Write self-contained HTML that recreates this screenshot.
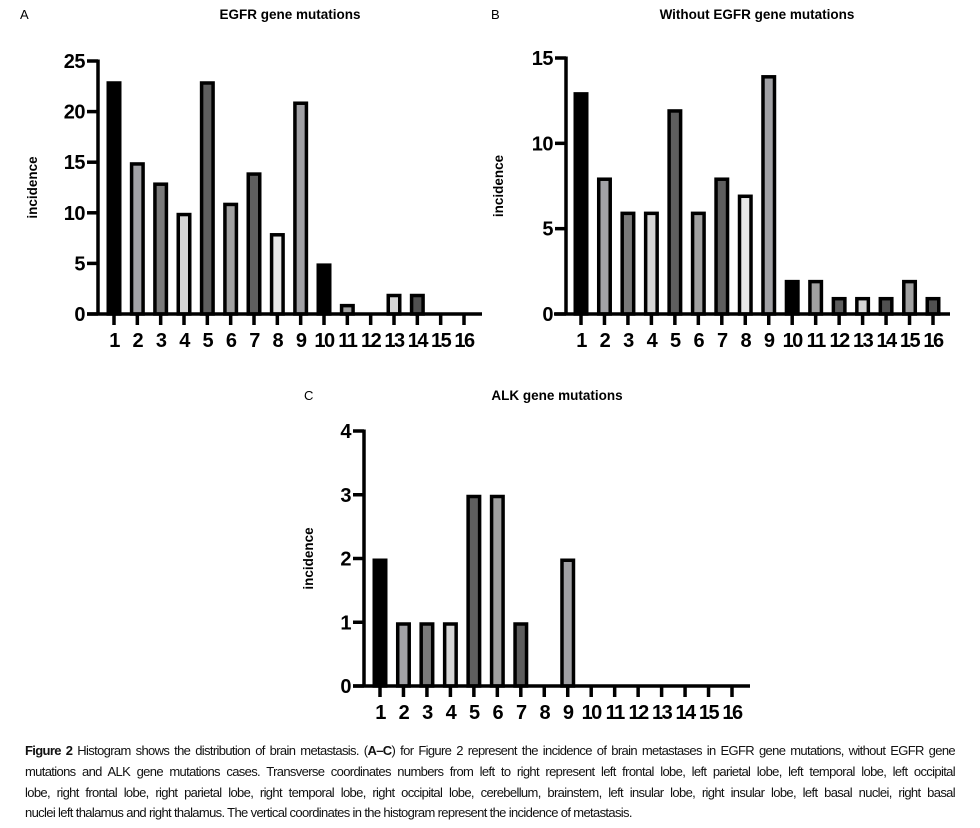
<!DOCTYPE html>
<html><head><meta charset="utf-8">
<style>
body{margin:0;background:#fff;width:980px;height:828px;overflow:hidden;position:relative;font-family:"Liberation Sans",sans-serif}
svg{position:absolute;left:0;top:0}
#cap{position:absolute;left:25px;top:741px;width:930px;font-size:13px;line-height:20.8px;color:#111;letter-spacing:-0.65px}
#cap .ln{text-align:justify;text-align-last:justify;white-space:nowrap;overflow:visible}
#cap .last{text-align:left;text-align-last:left}
</style></head><body>
<svg id="svg" width="980" height="740" viewBox="0 0 980 740"></svg>
<div id="cap">
<div class="ln"><b>Figure 2</b> Histogram shows the distribution of brain metastasis. (<b>A–C</b>) for Figure 2 represent the incidence of brain metastases in EGFR gene mutations, without EGFR gene</div>
<div class="ln">mutations and ALK gene mutations cases. Transverse coordinates numbers from left to right represent left frontal lobe, left parietal lobe, left temporal lobe, left occipital</div>
<div class="ln">lobe, right frontal lobe, right parietal lobe, right temporal lobe, right occipital lobe, cerebellum, brainstem, left insular lobe, right insular lobe, left basal nuclei, right basal</div>
<div class="ln last">nuclei left thalamus and right thalamus. The vertical coordinates in the histogram represent the incidence of metastasis.</div>
</div>
<script>
const categories = ["1","2","3","4","5","6","7","8","9","10","11","12","13","14","15","16"];
const egfrValues = [23,15,13,10,23,11,14,8,21,5,1,0,2,2,0,0];
const withoutEgfrValues = [13,8,6,6,12,6,8,7,14,2,2,1,1,1,2,1];
const alkValues = [2,1,1,1,3,3,1,0,2,0,0,0,0,0,0,0];
const egfrTicks = [0,5,10,15,20,25];
const withoutTicks = [0,5,10,15];
const alkTicks = [0,1,2,3,4];
const fills = ["#000","#a2a2a6","#7a7a7a","#d6d6d6","#5e5e5e","#a0a0a0","#5e5e5e","#e8e8e8","#a0a0a4","#000","#a0a0a0","#5e5e5e","#d6d6d6","#505050","#a0a0a0","#505050"];
const NS="http://www.w3.org/2000/svg";
const svg=document.getElementById('svg');
function mk(tag,attrs,parent,text){const e=document.createElementNS(NS,tag);for(const k in attrs)e.setAttribute(k,attrs[k]);if(text!==undefined)e.textContent=text;parent.appendChild(e);return e;}

function chart(cfg,values,ticks,key){
  const g=mk('g',{},svg);
  
  
  const ymax=ticks[ticks.length-1];
  const y=v=>cfg.y0-(cfg.y0-cfg.yTop)*v/ymax;
  const x=i=>cfg.x1+(cfg.x16-cfg.x1)*i/(categories.length-1);
  let t=mk('text',{x:cfg.letterX,y:cfg.titleY,'font-size':13},g,cfg.letter);
  
  t=mk('text',{x:cfg.titleX,y:cfg.titleY,'font-size':13.5,'font-weight':'bold','text-anchor':'middle'},g,cfg.title);
  
  t=mk('text',{x:0,y:0,'font-size':13.5,'font-weight':'bold','text-anchor':'middle',transform:`translate(${cfg.ylabX},${(cfg.y0+cfg.yTop)/2}) rotate(-90)`},g,'incidence');
  
  values.forEach((v,i)=>{
    if(v<=0)return;
    const b=mk('rect',{x:x(i)-5.75,y:y(v)+1.75,width:11.5,height:cfg.y0-y(v)-1.75,fill:fills[i],stroke:'#000','stroke-width':3.5},g);
    
    
  });
  const ya=mk('line',{x1:cfg.ax,y1:cfg.yTop-1.5,x2:cfg.ax,y2:cfg.y0,stroke:'#000','stroke-width':3.5},g);
  
  const xa=mk('line',{x1:cfg.xStart,y1:cfg.y0,x2:cfg.xEnd,y2:cfg.y0,stroke:'#000','stroke-width':3.5},g);
  
  ticks.forEach(v=>{
    mk('line',{x1:cfg.ax-11,y1:y(v),x2:cfg.ax,y2:y(v),stroke:'#000','stroke-width':3.5},g);
    const l=mk('text',{x:cfg.ax-13,y:y(v)+7,'font-size':20,'font-weight':'bold','text-anchor':'end','letter-spacing':'-0.5'},g,String(v));
    
  });
  categories.forEach((c,i)=>{
    mk('line',{x1:x(i),y1:cfg.y0,x2:x(i),y2:cfg.y0+11,stroke:'#000','stroke-width':3.5},g);
    const l=mk('text',{x:x(i),y:cfg.y0+33,'font-size':20,'font-weight':'bold','text-anchor':'middle','letter-spacing':'-1.5'},g,c);
    
  });
}
chart({letter:'A',letterX:20,title:'EGFR gene mutations',titleX:290,titleY:19,ylabX:37,ax:98,yTop:61,y0:314,x1:114,x16:464,xStart:87,xEnd:482},egfrValues,egfrTicks,'egfr');
chart({letter:'B',letterX:491,title:'Without EGFR gene mutations',titleX:757,titleY:19,ylabX:503,ax:566,yTop:58,y0:314,x1:581,x16:933,xStart:554,xEnd:950},withoutEgfrValues,withoutTicks,'without-egfr');
chart({letter:'C',letterX:304,title:'ALK gene mutations',titleX:557,titleY:400,ylabX:313,ax:364,yTop:431,y0:686,x1:380,x16:732,xStart:353,xEnd:750},alkValues,alkTicks,'alk');
</script>
</body></html>
